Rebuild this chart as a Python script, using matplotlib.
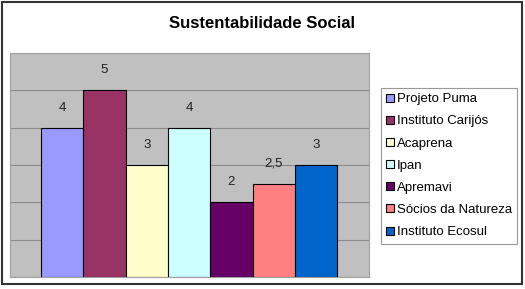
import matplotlib.pyplot as plt
from matplotlib.patches import Rectangle

plt.rcParams['font.family'] = ['Liberation Sans', 'DejaVu Sans']

names = ['Projeto Puma', 'Instituto Carijós', 'Acaprena', 'Ipan',
         'Apremavi', 'Sócios da Natureza', 'Instituto Ecosul']
values = [4, 5, 3, 4, 2, 2.5, 3]
labels = ['4', '5', '3', '4', '2', '2,5', '3']
colors = ['#9999FF', '#993366', '#FFFFCC', '#CCFFFF',
          '#660066', '#FF8080', '#0066CC']

fig = plt.figure(figsize=(5.25, 2.89), dpi=100)
ax = fig.add_axes([10 / 525, 12 / 289, 359 / 525, 224 / 289])
ax.set_facecolor('#C0C0C0')

for i, (n, v, c) in enumerate(zip(names, values, colors)):
    ax.bar(i, v, width=1.0, color=c, edgecolor='black', linewidth=0.8,
           label=n, zorder=3)
    ax.annotate(labels[i], (i, v), xytext=(0, 10), textcoords='offset points',
                ha='center', va='bottom', fontsize=9.5, color='#222222')

ax.set_ylim(0, 6)
ax.set_xlim(-1.23, 7.25)
ax.set_yticks(range(0, 7))
ax.yaxis.grid(True, color='#8a8a8a', linewidth=0.8, zorder=0)
ax.set_axisbelow(True)
ax.set_xticks([])
ax.tick_params(left=False, labelleft=False)
for s in ax.spines.values():
    s.set_color('#a0a0a0')
    s.set_linewidth(0.8)

fig.text(262 / 525, 1 - 24 / 289, 'Sustentabilidade Social', ha='center',
         va='center', fontsize=12, fontweight='bold')

leg = fig.legend(loc='upper left', bbox_to_anchor=(381 / 525, 1 - 88 / 289),
                 fontsize=9.5, frameon=True, fancybox=False, edgecolor='#808080',
                 handlelength=0.55, handleheight=0.55, handletextpad=0.25,
                 labelspacing=0.77, borderpad=0.4, borderaxespad=0)
leg.get_frame().set_linewidth(0.8)

fig.patches.append(Rectangle((1.5 / 525, 5 / 289), 520 / 525, 282.5 / 289,
                             transform=fig.transFigure, fill=False,
                             edgecolor='#333333', linewidth=1.5))

fig.savefig('out.png', dpi=100)
